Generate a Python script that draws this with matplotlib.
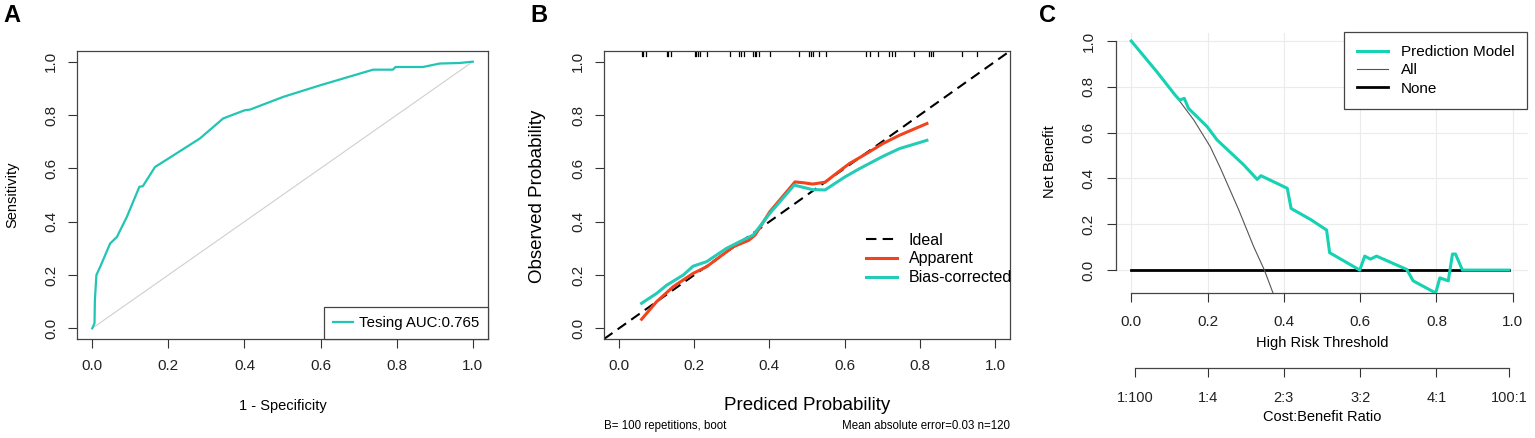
import matplotlib
matplotlib.use("Agg")
import matplotlib.pyplot as plt

plt.rcParams['font.family'] = ['Liberation Sans', 'DejaVu Sans']

# ---- panel A: ROC ----
roc_fpr = [0.0, 0.006, 0.007, 0.011, 0.021, 0.047, 0.065, 0.091, 0.124, 0.133, 0.165, 0.196,
           0.283, 0.344, 0.401, 0.414, 0.502, 0.598, 0.738, 0.790, 0.797, 0.869, 0.913, 0.965, 1.0]
roc_tpr = [0.0, 0.019, 0.106, 0.200, 0.231, 0.318, 0.343, 0.418, 0.531, 0.533, 0.605, 0.633,
           0.712, 0.787, 0.818, 0.820, 0.868, 0.911, 0.970, 0.970, 0.980, 0.980, 0.993, 0.995, 1.0]
roc_label = "Tesing AUC:0.765"

# ---- panel B: calibration ----
app_x = [0.060, 0.100, 0.144, 0.197, 0.233, 0.304, 0.345, 0.362, 0.401, 0.468, 0.490, 0.515,
         0.548, 0.580, 0.613, 0.658, 0.702, 0.746, 0.819]
app_y = [0.034, 0.100, 0.156, 0.206, 0.231, 0.306, 0.330, 0.350, 0.437, 0.549, 0.546, 0.541,
         0.548, 0.583, 0.618, 0.655, 0.693, 0.724, 0.768]
bc_x = [0.060, 0.100, 0.127, 0.171, 0.197, 0.233, 0.286, 0.321, 0.357, 0.401, 0.466, 0.515,
        0.548, 0.600, 0.640, 0.702, 0.746, 0.819]
bc_y = [0.094, 0.131, 0.162, 0.200, 0.233, 0.250, 0.300, 0.325, 0.350, 0.431, 0.537, 0.520,
        0.519, 0.567, 0.599, 0.645, 0.674, 0.705]
rug_x = [0.060, 0.064, 0.072, 0.127, 0.131, 0.137, 0.202, 0.206, 0.210, 0.215, 0.233, 0.296,
         0.319, 0.325, 0.332, 0.356, 0.361, 0.365, 0.371, 0.401, 0.480, 0.505, 0.510, 0.515,
         0.533, 0.551, 0.657, 0.668, 0.688, 0.719, 0.726, 0.735, 0.785, 0.825, 0.830, 0.836,
         0.913, 0.953]
calib_note_left = "B= 100 repetitions, boot"
calib_note_right = "Mean absolute error=0.03 n=120"

# ---- panel C: decision curve ----
model_t = [0.0, 0.067, 0.115, 0.127, 0.139, 0.150, 0.199, 0.225, 0.295, 0.330, 0.340, 0.409,
           0.419, 0.470, 0.512, 0.520, 0.599, 0.612, 0.627, 0.643, 0.722, 0.739, 0.798, 0.809,
           0.831, 0.842, 0.850, 0.868, 0.990]
model_nb = [1.0, 0.866, 0.764, 0.742, 0.750, 0.706, 0.626, 0.568, 0.459, 0.396, 0.412, 0.357,
            0.269, 0.221, 0.175, 0.076, 0.0, 0.061, 0.048, 0.061, 0.003, -0.047, -0.100, -0.034,
            -0.047, 0.070, 0.070, 0.0, 0.0]
all_t = [0.0, 0.115, 0.164, 0.207, 0.234, 0.282, 0.321, 0.349, 0.372]
all_nb = [1.0, 0.764, 0.655, 0.539, 0.444, 0.262, 0.102, 0.0, -0.102]
none_t = [0.0, 0.990]
none_nb = [0.0, 0.0]
ratio_pos = [0.01, 0.2, 0.4, 0.6, 0.8, 0.99]
ratio_lab = ["1:100", "1:4", "2:3", "3:2", "4:1", "100:1"]

ticks = [0.0, 0.2, 0.4, 0.6, 0.8, 1.0]
tick_lab = ["0.0", "0.2", "0.4", "0.6", "0.8", "1.0"]

W, H = 1535, 438
fig = plt.figure(figsize=(W / 100, H / 100), dpi=100)


def box(l, t, r, b):
    return [l / W, 1 - b / H, (r - l) / W, (b - t) / H]


def px(x, y):
    return x / W, 1 - y / H


def style_axes(ax, ypad=7, xpad=8):
    ax.set_xticks(ticks)
    ax.set_xticklabels(tick_lab)
    ax.set_yticks(ticks)
    ax.set_yticklabels(tick_lab, rotation=90, va='center')
    ax.tick_params(direction='out', length=6.5, width=0.8, color='#333333',
                   labelsize=11, labelcolor='#222222')
    ax.tick_params(axis='x', pad=xpad)
    ax.tick_params(axis='y', pad=ypad)
    for s in ax.spines.values():
        s.set_color('#444444')
        s.set_linewidth(0.9)


teal_a = '#22C4B4'
teal_b = '#26CBB8'
teal_c = '#14D2B2'
red = '#F2431F'

# ---- A ----
axA = fig.add_axes(box(77, 51, 488, 339))
axA.plot([0, 1], [0, 1], color='#CFCFCF', lw=0.8)
axA.plot(roc_fpr, roc_tpr, color=teal_a, lw=1.6, label=roc_label)
axA.set_xlim(-0.04, 1.04)
axA.set_ylim(-0.04, 1.04)
style_axes(axA)
legA = axA.legend(loc='lower right', borderaxespad=0, fontsize=10.8, handlelength=1.3,
                  handletextpad=0.4, borderpad=0.6, fancybox=False, framealpha=1)
legA.get_frame().set_edgecolor('#444444')
legA.get_frame().set_linewidth(0.9)
fig.text(*px(12, 195), "Sensitivity", rotation=90, ha='center', va='center', fontsize=10.5)
fig.text(*px(283, 406), "1 - Specificity", ha='center', va='center', fontsize=10.5)
fig.text(*px(12, 15), "A", ha='center', va='center', fontsize=17, fontweight='bold')

# ---- B ----
axB = fig.add_axes(box(604, 51, 1010, 339))
axB.axline((0, 0), (1, 1), color='black', lw=1.5, ls=(0, (5, 3)), label='Ideal')
axB.plot(app_x, app_y, color=red, lw=2.2, label='Apparent')
axB.plot(bc_x, bc_y, color=teal_b, lw=2.2, label='Bias-corrected')
for r in rug_x:
    axB.plot([r, r], [1.022, 1.04], color='black', lw=0.9)
axB.set_xlim(-0.04, 1.04)
axB.set_ylim(-0.04, 1.04)
style_axes(axB)
axB.legend(loc='center left', bbox_to_anchor=px(852, 259), bbox_transform=fig.transFigure,
           frameon=False, fontsize=11.5, handlelength=1.9, handletextpad=0.75, labelspacing=0.25)
fig.text(*px(538, 196), "Observed Probability", rotation=90, ha='center', va='center',
         fontsize=13.5)
fig.text(*px(807, 405), "Prediced Probability", ha='center', va='center', fontsize=13.5)
fig.text(*px(604, 426), calib_note_left, ha='left', va='center', fontsize=8.3)
fig.text(*px(1010, 426), calib_note_right, ha='right', va='center', fontsize=8.3)
fig.text(*px(539, 15), "B", ha='center', va='center', fontsize=17, fontweight='bold')

# ---- C ----
axC = fig.add_axes(box(1116, 33, 1528, 293))
axC.grid(True, color='#EBEBEB', lw=0.8)
axC.set_axisbelow(True)
axC.plot(none_t, none_nb, color='black', lw=2.0, label='None', zorder=3)
axC.plot(all_t, all_nb, color='#555555', lw=0.8, label='All', zorder=3)
axC.plot(model_t, model_nb, color=teal_c, lw=2.2, label='Prediction Model', zorder=4)
axC.set_xlim(-0.04, 1.04)
axC.set_ylim(-0.1, 1.035)
style_axes(axC, ypad=8, xpad=9)
axC.spines['top'].set_visible(False)
axC.spines['right'].set_visible(False)
axC.spines['left'].set_bounds(0, 1)
axC.spines['bottom'].set_bounds(0, 1)
h, l = axC.get_legend_handles_labels()
legC = axC.legend([h[2], h[1], h[0]], [l[2], l[1], l[0]], loc='upper right',
                  bbox_to_anchor=px(1527, 32), bbox_transform=fig.transFigure,
                  borderaxespad=0, fontsize=11, handlelength=2.0, handletextpad=0.85,
                  borderpad=0.85, labelspacing=0.28, fancybox=False, framealpha=1)
legC.get_frame().set_edgecolor('#444444')
legC.get_frame().set_linewidth(0.9)
fig.text(*px(1050, 162), "Net Benefit", rotation=90, ha='center', va='center', fontsize=10.5)
fig.text(*px(1322, 343), "High Risk Threshold", ha='center', va='center', fontsize=10.5)
fig.text(*px(1047, 15), "C", ha='center', va='center', fontsize=17, fontweight='bold')

# cost:benefit axis
axR = fig.add_axes([1116 / W, 1 - 368 / H, 412 / W, 0.001])
axR.set_xlim(-0.04, 1.04)
axR.set_ylim(0, 1)
axR.patch.set_visible(False)
for s in ['top', 'left', 'right']:
    axR.spines[s].set_visible(False)
axR.spines['bottom'].set_bounds(ratio_pos[0], ratio_pos[-1])
axR.spines['bottom'].set_color('#444444')
axR.spines['bottom'].set_linewidth(0.9)
axR.set_yticks([])
axR.set_xticks(ratio_pos)
axR.set_xticklabels(ratio_lab)
axR.tick_params(axis='x', direction='out', length=6.5, width=0.8, color='#333333',
                labelsize=10.5, labelcolor='#222222', pad=10)
fig.text(*px(1322, 417), "Cost:Benefit Ratio", ha='center', va='center', fontsize=10.5)

fig.savefig("out.png", dpi=100)
